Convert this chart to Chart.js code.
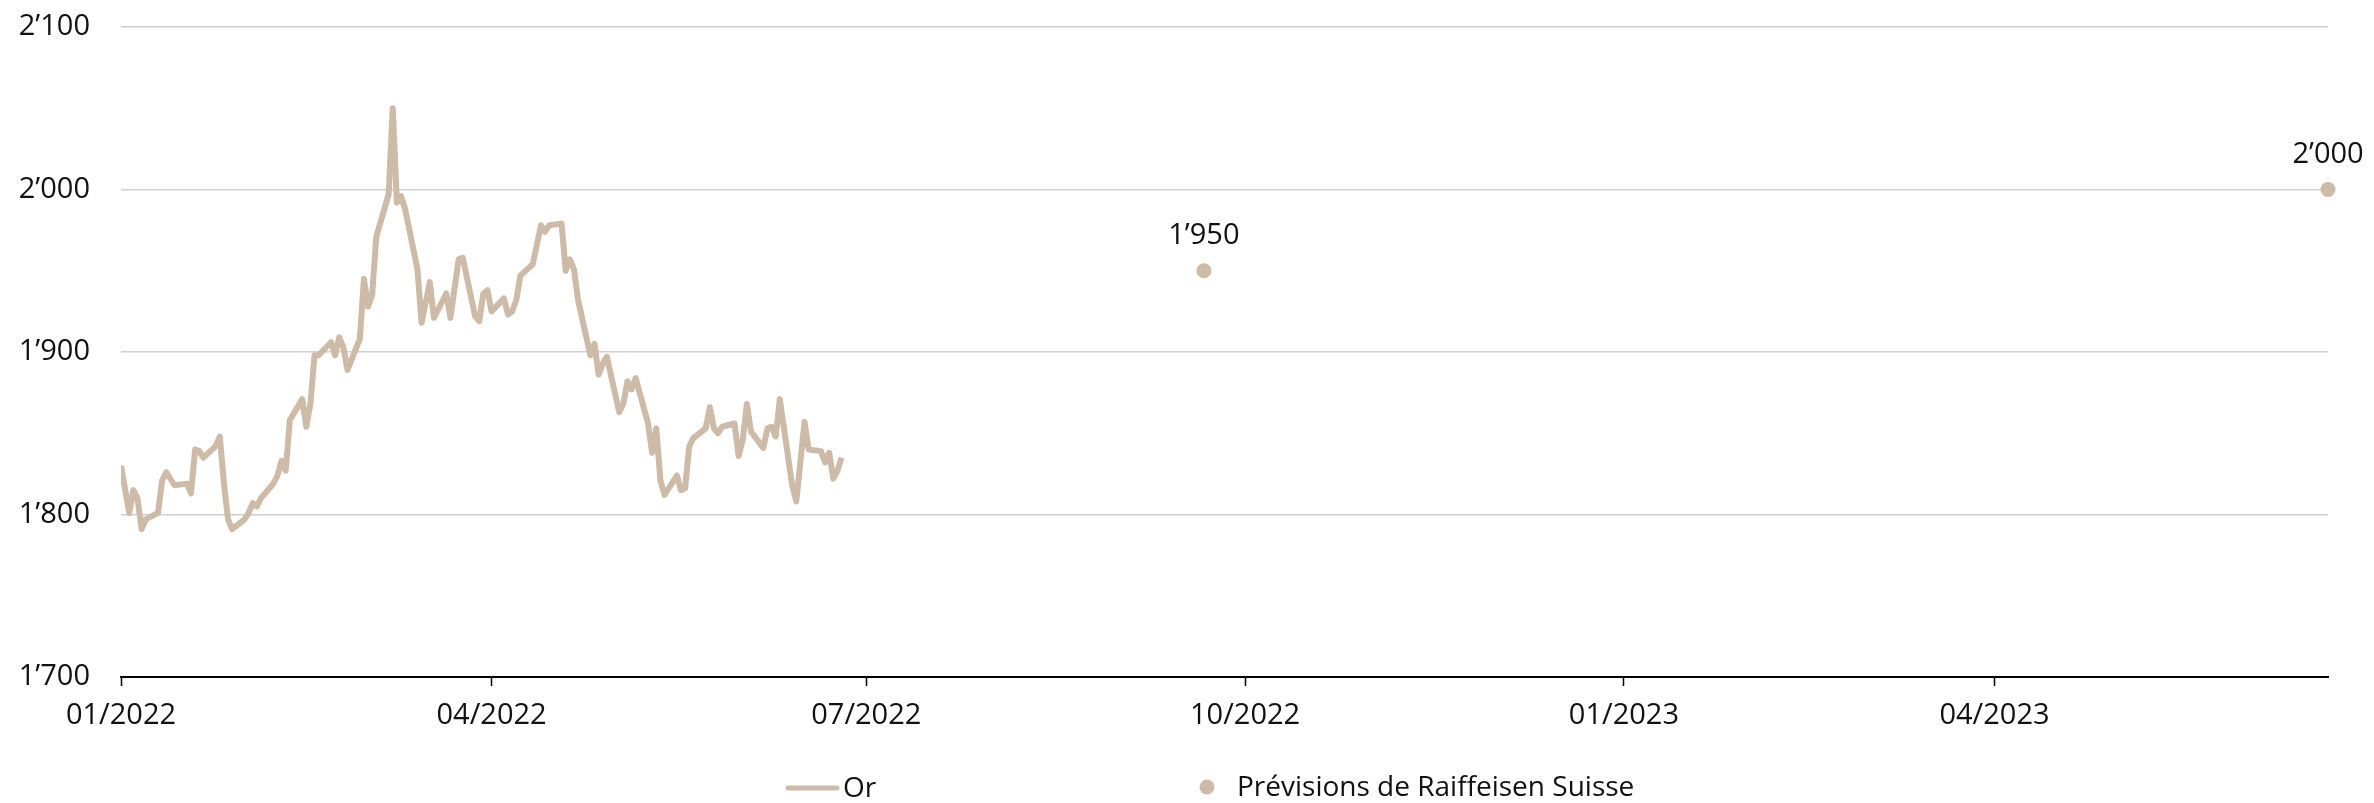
<!DOCTYPE html>
<html>
<head>
<meta charset="utf-8">
<title>Or</title>
<script src="https://cdn.jsdelivr.net/npm/chart.js@4.4.1/dist/chart.umd.min.js"></script>
<style>
  html, body { margin: 0; padding: 0; background: #ffffff; }
  #wrap { width: 2374px; height: 803px; position: relative; }
</style>
</head>
<body>
<div id="wrap"><canvas id="c" width="2374" height="803"></canvas></div>
<script>
// Gold price (USD per ounce), daily
const goldDates = [
  '2022-01-01','2022-01-03','2022-01-04','2022-01-05','2022-01-06','2022-01-07',
  '2022-01-10','2022-01-11','2022-01-12','2022-01-13','2022-01-14',
  '2022-01-17','2022-01-18','2022-01-19','2022-01-20','2022-01-21',
  '2022-01-24','2022-01-25','2022-01-26','2022-01-27','2022-01-28',
  '2022-01-31','2022-02-01','2022-02-02','2022-02-03','2022-02-04',
  '2022-02-07','2022-02-08','2022-02-09','2022-02-10','2022-02-11',
  '2022-02-14','2022-02-15','2022-02-16','2022-02-17','2022-02-18',
  '2022-02-21','2022-02-22','2022-02-23','2022-02-24','2022-02-25',
  '2022-02-28','2022-03-01','2022-03-02','2022-03-03','2022-03-04',
  '2022-03-07','2022-03-08','2022-03-09','2022-03-10','2022-03-11',
  '2022-03-14','2022-03-15','2022-03-17','2022-03-18',
  '2022-03-21','2022-03-22','2022-03-24','2022-03-25',
  '2022-03-28','2022-03-29','2022-03-30','2022-03-31','2022-04-01',
  '2022-04-04','2022-04-05','2022-04-06','2022-04-07','2022-04-08',
  '2022-04-11','2022-04-12','2022-04-13','2022-04-14','2022-04-15',
  '2022-04-18','2022-04-19','2022-04-20','2022-04-21','2022-04-22',
  '2022-04-25','2022-04-26','2022-04-27','2022-04-28','2022-04-29',
  '2022-05-02','2022-05-03','2022-05-04','2022-05-05','2022-05-06',
  '2022-05-09','2022-05-10','2022-05-11','2022-05-12','2022-05-13',
  '2022-05-16','2022-05-17','2022-05-18','2022-05-19','2022-05-20',
  '2022-05-23','2022-05-24','2022-05-25','2022-05-26','2022-05-27',
  '2022-05-30','2022-05-31','2022-06-01','2022-06-02','2022-06-03',
  '2022-06-06','2022-06-07','2022-06-08','2022-06-09','2022-06-10',
  '2022-06-13','2022-06-14','2022-06-16','2022-06-17',
  '2022-06-20','2022-06-21','2022-06-22','2022-06-23','2022-06-24','2022-06-25'
];
const goldValues = [
  1830, 1801, 1815, 1810, 1791, 1797,
  1801, 1821, 1826, 1822, 1818,
  1819, 1813, 1840, 1839, 1835,
  1842, 1848, 1819, 1797, 1791,
  1797, 1801, 1807, 1805, 1810,
  1819, 1824, 1833, 1827, 1858,
  1871, 1854, 1868, 1898, 1898,
  1906, 1898, 1909, 1903, 1889,
  1908, 1945, 1928, 1935, 1971,
  1997, 2050, 1992, 1996, 1988,
  1951, 1918, 1943, 1921,
  1936, 1921, 1957, 1958,
  1922, 1919, 1936, 1938, 1925,
  1933, 1923, 1925, 1932, 1947,
  1954, 1966, 1978, 1974, 1978,
  1979, 1950, 1957, 1951, 1932,
  1898, 1905, 1886, 1893, 1897,
  1863, 1868, 1882, 1877, 1884,
  1856, 1838, 1853, 1821, 1812,
  1824, 1815, 1816, 1842, 1847,
  1853, 1866, 1853, 1850, 1854,
  1856, 1836, 1846, 1868, 1851,
  1841, 1853, 1854, 1848, 1871,
  1818, 1808, 1857, 1840,
  1839, 1832, 1838, 1822, 1827, 1835
];

// Raiffeisen forecasts
const forecastDates = ['2022-09-21', '2023-06-21'];
const forecastValues = [1950, 2000];

// Axis ticks
const tickDates = ['2022-01-01', '2022-04-01', '2022-07-01', '2022-10-01', '2023-01-01', '2023-04-01'];
const tickLabels = ['01/2022', '04/2022', '07/2022', '10/2022', '01/2023', '04/2023'];
const yTicks = [1700, 1800, 1900, 2000, 2100];

const seriesNames = ['Or', 'Pr\u00e9visions de Raiffeisen Suisse'];

const GOLD = '#cdbba7';
const TEXT = '#111111';
const FONT = '"Open Sans", "DejaVu Sans", sans-serif';

// days since 1 Jan 2022
const dayNum = s => (Date.UTC(+s.slice(0, 4), +s.slice(5, 7) - 1, +s.slice(8, 10)) - Date.UTC(2022, 0, 1)) / 86400000;
const fmt = v => {
  const s = Math.round(v).toString();
  return s.length > 3 ? s.slice(0, -3) + '\u2019' + s.slice(-3) : s;
};

const goldPoints = goldDates.map((d, i) => ({ x: dayNum(d), y: goldValues[i] }));
const forecastPoints = forecastDates.map((d, i) => ({ x: dayNum(d), y: forecastValues[i] }));
const tickDays = tickDates.map(dayNum);

const overlay = {
  id: 'overlay',
  afterDatasetsDraw(chart) {
    const ctx = chart.ctx;
    const meta = chart.getDatasetMeta(1);
    ctx.save();
    ctx.font = '29px ' + FONT;
    ctx.fillStyle = TEXT;
    ctx.textAlign = 'center';
    ctx.textBaseline = 'alphabetic';
    meta.data.forEach((pt, i) => {
      ctx.fillText(fmt(forecastValues[i]), pt.x, pt.y - 27);
    });
    ctx.restore();
  },
  afterDraw(chart) {
    const ctx = chart.ctx;
    ctx.save();
    ctx.font = '28px ' + FONT;
    ctx.textBaseline = 'middle';
    ctx.textAlign = 'left';
    // line item
    ctx.strokeStyle = GOLD;
    ctx.lineWidth = 5;
    ctx.lineCap = 'round';
    ctx.beginPath();
    ctx.moveTo(788, 788);
    ctx.lineTo(837, 788);
    ctx.stroke();
    ctx.fillStyle = TEXT;
    ctx.fillText(seriesNames[0], 843, 789);
    // dot item
    ctx.fillStyle = GOLD;
    ctx.beginPath();
    ctx.arc(1207, 787, 7.5, 0, Math.PI * 2);
    ctx.fill();
    ctx.fillStyle = TEXT;
    ctx.fillText(seriesNames[1], 1237, 788);
    ctx.restore();
  }
};

new Chart(document.getElementById('c'), {
  type: 'scatter',
  data: {
    datasets: [
      {
        label: seriesNames[0],
        data: goldPoints,
        showLine: true,
        borderColor: GOLD,
        backgroundColor: GOLD,
        borderWidth: 6,
        pointRadius: 0,
        tension: 0,
        borderJoinStyle: 'round'
      },
      {
        label: seriesNames[1],
        data: forecastPoints,
        showLine: false,
        borderColor: GOLD,
        backgroundColor: GOLD,
        pointRadius: 7.5,
        pointBorderWidth: 0,
        clip: false
      }
    ]
  },
  options: {
    responsive: false,
    animation: false,
    devicePixelRatio: 1,
    layout: { autoPadding: false, padding: { left: 0, right: 46, top: 27, bottom: 0 } },
    plugins: {
      legend: { display: false },
      tooltip: { enabled: false }
    },
    scales: {
      x: {
        type: 'linear',
        min: 0,
        max: dayNum(forecastDates[forecastDates.length - 1]),
        afterBuildTicks: scale => { scale.ticks = tickDays.map(v => ({ value: v })); },
        afterFit: scale => { scale.height = 126; scale.paddingLeft = 0; scale.paddingRight = 0; },
        grid: {
          drawOnChartArea: false,
          drawTicks: true,
          tickLength: 9,
          tickColor: '#000000',
          tickWidth: 1.5
        },
        border: { display: true, color: '#000000', width: 2 },
        ticks: {
          padding: 12,
          maxRotation: 0,
          autoSkip: false,
          color: TEXT,
          font: { family: FONT, size: 29 },
          callback: v => {
            const i = tickDays.indexOf(v);
            return i >= 0 ? tickLabels[i] : '';
          }
        }
      },
      y: {
        min: yTicks[0],
        max: yTicks[yTicks.length - 1],
        afterBuildTicks: scale => { scale.ticks = yTicks.map(v => ({ value: v })); },
        afterFit: scale => { scale.width = 121; scale.paddingTop = 0; scale.paddingBottom = 0; },
        grid: { color: '#cfcfcf', lineWidth: 1.5, drawTicks: false },
        border: { display: false },
        ticks: {
          padding: 31,
          color: TEXT,
          font: { family: FONT, size: 29 },
          callback: v => fmt(v)
        }
      }
    }
  },
  plugins: [overlay]
});
</script>
</body>
</html>
